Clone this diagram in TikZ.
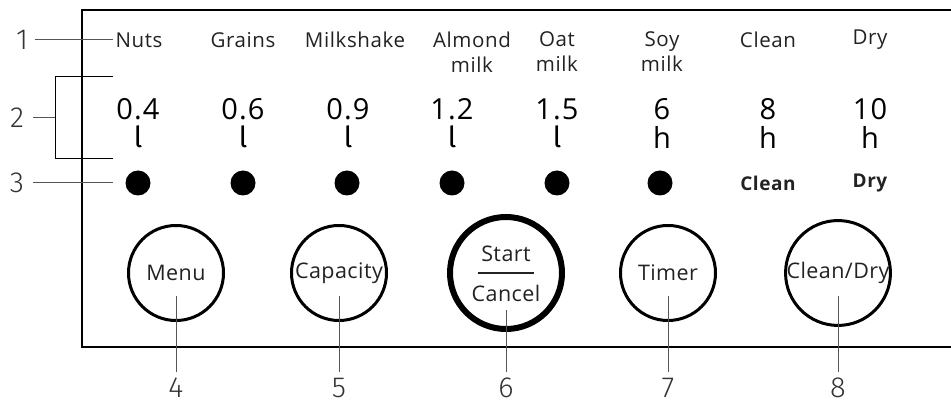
\documentclass[tikz,border=0pt]{standalone}
\usepackage{fontspec}
\setmainfont{Open Sans}
\newfontfamily\lightfont{Fira Sans Light}
\newfontfamily\unitfont{Fira Sans}
\definecolor{ink}{HTML}{222222}
\definecolor{lead}{HTML}{555555}
\definecolor{numc}{HTML}{333333}
\tikzset{
  hdr/.style={font=\fontsize{20.5}{25}\selectfont\addfontfeature{LetterSpace=3}, text=ink, align=center, inner sep=0pt},
  val/.style={font=\fontsize{29}{29}\selectfont\addfontfeature{LetterSpace=4}, text=black, inner sep=0pt},
  unit/.style={font=\fontsize{29}{29}\unitfont, text=black, inner sep=0pt},
  dot/.style={circle, fill=black, minimum size=25pt, inner sep=0pt},
  bold/.style={font=\fontsize{19}{19}\selectfont\bfseries\addfontfeature{LetterSpace=3}, text=ink, inner sep=0pt},
  btn/.style={circle, draw=black, line width=3pt, minimum size=95pt, inner sep=0pt, font=\fontsize{21.5}{25}\selectfont\addfontfeature{LetterSpace=2}, text=ink},
  bigbtn/.style={circle, draw=black, line width=6pt, minimum size=112pt, inner sep=0pt},
  num/.style={font=\fontsize{29}{29}\lightfont, text=numc, inner sep=0pt},
  leader/.style={draw=lead, line width=1pt},
  panel/.style={draw=black, line width=1.5pt}
}
\begin{document}
\begin{tikzpicture}[x=1pt,y=-1pt]
\useasboundingbox (0,0) rectangle (951,403);
% panel
\draw[panel] (951,10) -- (82,10) -- (82,347) -- (951,347);
% headers
\node[hdr] (h1) at (139,40) {Nuts};
\node[hdr] (h2) at (243,40) {Grains};
\node[hdr] (h3) at (355,40) {Milkshake};
\node[hdr] (h4) at (472,52) {Almond\\milk};
\node[hdr] (h5) at (557,52) {Oat\\milk};
\node[hdr] (h6) at (662,52) {Soy\\milk};
\node[hdr] (h7) at (768,40) {Clean};
\node[hdr] (h8) at (870,40) {Dry};
% values
\foreach \x/\v [count=\i] in {138/0.4,243/0.6,348/0.9,452/1.2,557/1.5,662/6,768/8,870/10}{
  \node[val] (v\i) at (\x,109) {\v};
}
\foreach \x [count=\i] in {138,243,348,452,557}{
  \node[unit] (u\i) at (\x,137) {l};
}
\foreach \x [count=\i from 6] in {662,768,870}{
  \node[val] (u\i) at (\x,137) {h};
}
% dots
\foreach \x [count=\i] in {138,243,347,452,557,660}{
  \node[dot] (d\i) at (\x,183) {};
}
\node[bold] (dc) at (768,183) {Clean};
\node[bold] (dd) at (870,183) {Dry};
% buttons
\node[btn] (b4) at (176,273) {Menu};
\node[btn] (b5) at (339,273) {Capacity};
\node[bigbtn] (b6) at (506,273) {};
\node[btn, draw=none] (st) at (506,254) {Start};
\node[btn, draw=none] (ca) at (506,293) {Cancel};
\draw[ink, line width=1.2pt] (478,273) -- (534,273);
\node[btn] (b7) at (668,273) {Timer};
\node[btn] (b8) at (838,273) {Clean/Dry};
% callout numbers left
\node[num, anchor=base] (n1) at (22,50) {1};
\node[num, anchor=base] (n2) at (17,128) {2};
\node[num, anchor=base] (n3) at (17,193) {3};
\coordinate (c1) at (113,40);
\draw[leader] (35,40) -- (c1);
\coordinate (br) at (55,118);
\draw[leader] (33,118) -- (br);
\draw[black, line width=1pt] (113,77) -- (55,77) -- (55,159) -- (113,159);
\coordinate (c3) at (113,183);
\draw[leader] (33,183) -- (c3);
% bottom callouts
\foreach \x/\n/\t in {176/4/296,339/5/296,506/6/310,668/7/296,838/8/296}{
  \node[num, anchor=base] (m\n) at (\x,398) {\n};
  \coordinate (t\n) at (\x,\t);
  \draw[leader] (t\n) -- (\x,372);
}
\end{tikzpicture}
\end{document}
